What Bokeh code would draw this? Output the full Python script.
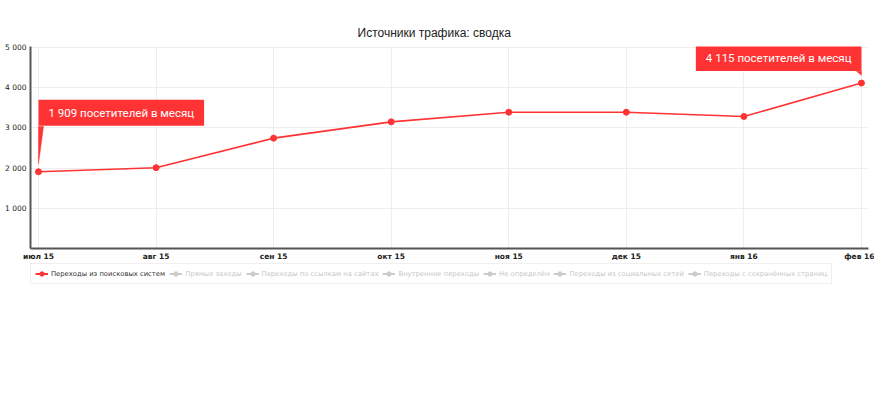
from bokeh.plotting import figure
from bokeh.layouts import column
from bokeh.models import Range1d, FixedTicker, Legend, LegendItem, Label
from bokeh.embed import file_html
from bokeh.resources import INLINE

# ---- data ----
months = ["июл 15", "авг 15", "сен 15", "окт 15", "ноя 15", "дек 15", "янв 16", "фев 16"]
search_visits = [1909, 2010, 2745, 3150, 3390, 3390, 3285, 4115]
series_names = [
    "Переходы из поисковых систем",
    "Прямые заходы",
    "Переходы по ссылкам на сайтах",
    "Внутренние переходы",
    "Не определён",
    "Переходы из социальных сетей",
    "Переходы с сохранённых страниц",
]
# series switched off in the reference (no values shown)
hidden_values = [float("nan")] * len(months)
y_ticks = [1000, 2000, 3000, 4000, 5000]
y_tick_labels = ["1 000", "2 000", "3 000", "4 000", "5 000"]
title_text = "Источники трафика: сводка"
annot_suffix = " посетителей в месяц"

RED = "#ff3333"
x_idx = list(range(len(months)))

p = figure(width=874, height=263,
           x_range=Range1d(-0.068, 7.06), y_range=Range1d(0, 5025),
           output_backend="svg", toolbar_location=None,
           min_border_left=30, min_border_right=6,
           min_border_top=46, min_border_bottom=12)
p.outline_line_color = None
p.background_fill_color = "white"
p.border_fill_color = "white"

p.title.text = title_text
p.title.align = "left"
p.title.offset = 327
p.title.text_font = "Liberation Sans"
p.title.text_font_size = "12px"
p.title.text_font_style = "normal"
p.title.text_color = "#222222"
p.title.standoff = 13

# axes
p.xaxis.ticker = FixedTicker(ticks=x_idx)
p.xaxis.major_label_overrides = {i: m for i, m in zip(x_idx, months)}
p.yaxis.ticker = FixedTicker(ticks=y_ticks)
p.yaxis.major_label_overrides = {t: l for t, l in zip(y_ticks, y_tick_labels)}
for ax in (p.xaxis, p.yaxis):
    ax.axis_line_color = "#555555"
    ax.axis_line_width = 2
    ax.major_tick_out = 0
    ax.major_tick_in = 0
    ax.minor_tick_out = 0
    ax.minor_tick_in = 0
    ax.major_label_text_font = "DejaVu Sans"
    ax.major_label_text_color = "#222222"
p.xaxis.major_label_text_font_size = "7.5px"
p.yaxis.major_label_text_font_size = "7.5px"
p.xaxis.major_label_text_font_style = "bold"
p.xaxis.major_label_standoff = 3
p.yaxis.major_label_standoff = 4
p.xgrid.grid_line_color = "#eeeeee"
p.ygrid.grid_line_color = "#eeeeee"

# main series
p.line(x_idx, search_visits, line_color=RED, line_width=1.6)
p.scatter(x_idx, search_visits, size=6, fill_color=RED, line_color=RED)

# annotations (callouts)
px_per_y = 205 / 5025.0
px_per_x = 838 / 7.128

def callout(i, align, up_px):
    v = search_visits[i]
    txt = f"{v:,}".replace(",", " ") + annot_suffix
    lab = Label(x=i, y=v, x_units="data", y_units="data", text=txt,
                y_offset=up_px, text_align=align, text_baseline="bottom",
                text_color="white", text_font="Roboto", text_font_size="11.5px",
                background_fill_color=RED, background_fill_alpha=1,
                padding=dict(left=10, right=10, top=6, bottom=6))
    p.add_layout(lab)
    top = v + up_px / px_per_y
    w = 5 / px_per_x
    if align == "left":
        xs = [i, i, i + w]
    else:
        xs = [i, i, i - w]
    p.patch(xs, [v + 8 / px_per_y, top, top], fill_color=RED, line_color=RED, line_width=0.5)

callout(0, "left", 46)
callout(len(months) - 1, "right", 12)

# ---- legend strip (separate figure below the chart) ----
q = figure(width=874, height=121, x_range=Range1d(-100, -99), y_range=Range1d(-100, -99),
           output_backend="svg", toolbar_location=None,
           x_axis_type=None, y_axis_type=None,
           min_border_left=0, min_border_right=0, min_border_top=0, min_border_bottom=0)
q.outline_line_color = None
q.xgrid.visible = False
q.ygrid.visible = False

items = []
for k, name in enumerate(series_names):
    col = RED if k == 0 else "#555555"
    ys = search_visits if k == 0 else hidden_values
    lr = q.line(x=x_idx, y=ys, line_color=col, line_width=2)
    sr = q.scatter(x=x_idx, y=ys, size=6, fill_color=col, line_color=col)
    if k > 0:
        lr.muted = True
        sr.muted = True
    items.append(LegendItem(label=name, renderers=[lr, sr]))

legend = Legend(items=items, orientation="horizontal", location=(0, 100),
                click_policy="mute")
legend.label_text_font = "DejaVu Sans"
legend.label_text_font_size = "6.8px"
legend.label_text_color = "#333333"
legend.glyph_width = 13
legend.glyph_height = 11
legend.label_height = 11
legend.label_standoff = 3
legend.spacing = 4
legend.padding = 4
legend.margin = 0
legend.border_line_color = "#e0e0e0"
legend.background_fill_alpha = 1
q.add_layout(legend, "center")

open("out.html", "w").write(file_html(column(p, q, spacing=0), INLINE))
